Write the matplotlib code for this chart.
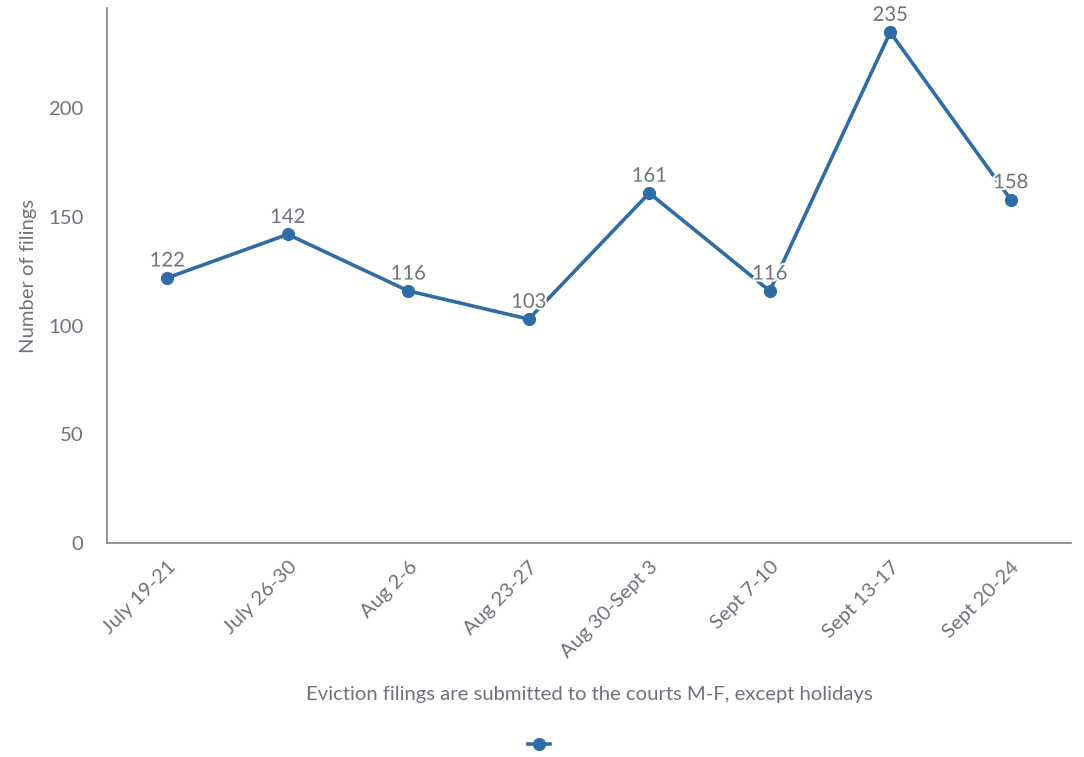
import matplotlib
matplotlib.use("Agg")
import matplotlib.pyplot as plt
import matplotlib.patheffects as pe

weeks = ["July 19-21", "July 26-30", "Aug 2-6", "Aug 23-27", "Aug 30-Sept 3",
         "Sept 7-10", "Sept 13-17", "Sept 20-24"]
filings = [122, 142, 116, 103, 161, 116, 235, 158]

line_color = "#2f6ca6"
text_color = "#6e737a"
spine_color = "#80858b"
fs = 14.6

plt.rcParams["font.family"] = ["Lato", "DejaVu Sans"]

fig = plt.figure(figsize=(10.84, 7.57), dpi=100)
ax = fig.add_axes([0.0987, 0.2827, 0.8893, 0.7063])

x = list(range(len(weeks)))
line, = ax.plot(x, filings, color=line_color, linewidth=2.6, marker="o",
                markersize=8.5, solid_joinstyle="round")

# value labels above each point, white halo like the original
for xi, v in zip(x, filings):
    ax.annotate(str(v), (xi, v), xytext=(0, 6), textcoords="offset points",
                ha="center", va="bottom", fontsize=fs, color=text_color,
                path_effects=[pe.withStroke(linewidth=3, foreground="white")])

ax.set_xlim(-0.5, len(weeks) - 0.5)
ax.set_ylim(0, 246)
ax.set_yticks([0, 50, 100, 150, 200])
ax.set_xticks(x)
ax.set_xticklabels(weeks, rotation=45, ha="right", rotation_mode="anchor")

ax.tick_params(axis="both", length=0, labelsize=fs, colors=text_color)
ax.tick_params(axis="y", pad=17)
ax.tick_params(axis="x", pad=11)

for side in ["top", "right"]:
    ax.spines[side].set_visible(False)
for side in ["left", "bottom"]:
    ax.spines[side].set_color(spine_color)
    ax.spines[side].set_linewidth(1.2)

ax.set_ylabel("Number of filings", fontsize=fs, color=text_color, labelpad=8)
ax.set_xlabel("Eviction filings are submitted to the courts M-F, except holidays",
              fontsize=fs, color=text_color, labelpad=18)

fig.legend([line], [""], loc="center", bbox_to_anchor=(0.497, 0.016),
           frameon=False, handlelength=1.6, handletextpad=0)

fig.savefig("out.png", dpi=100)
